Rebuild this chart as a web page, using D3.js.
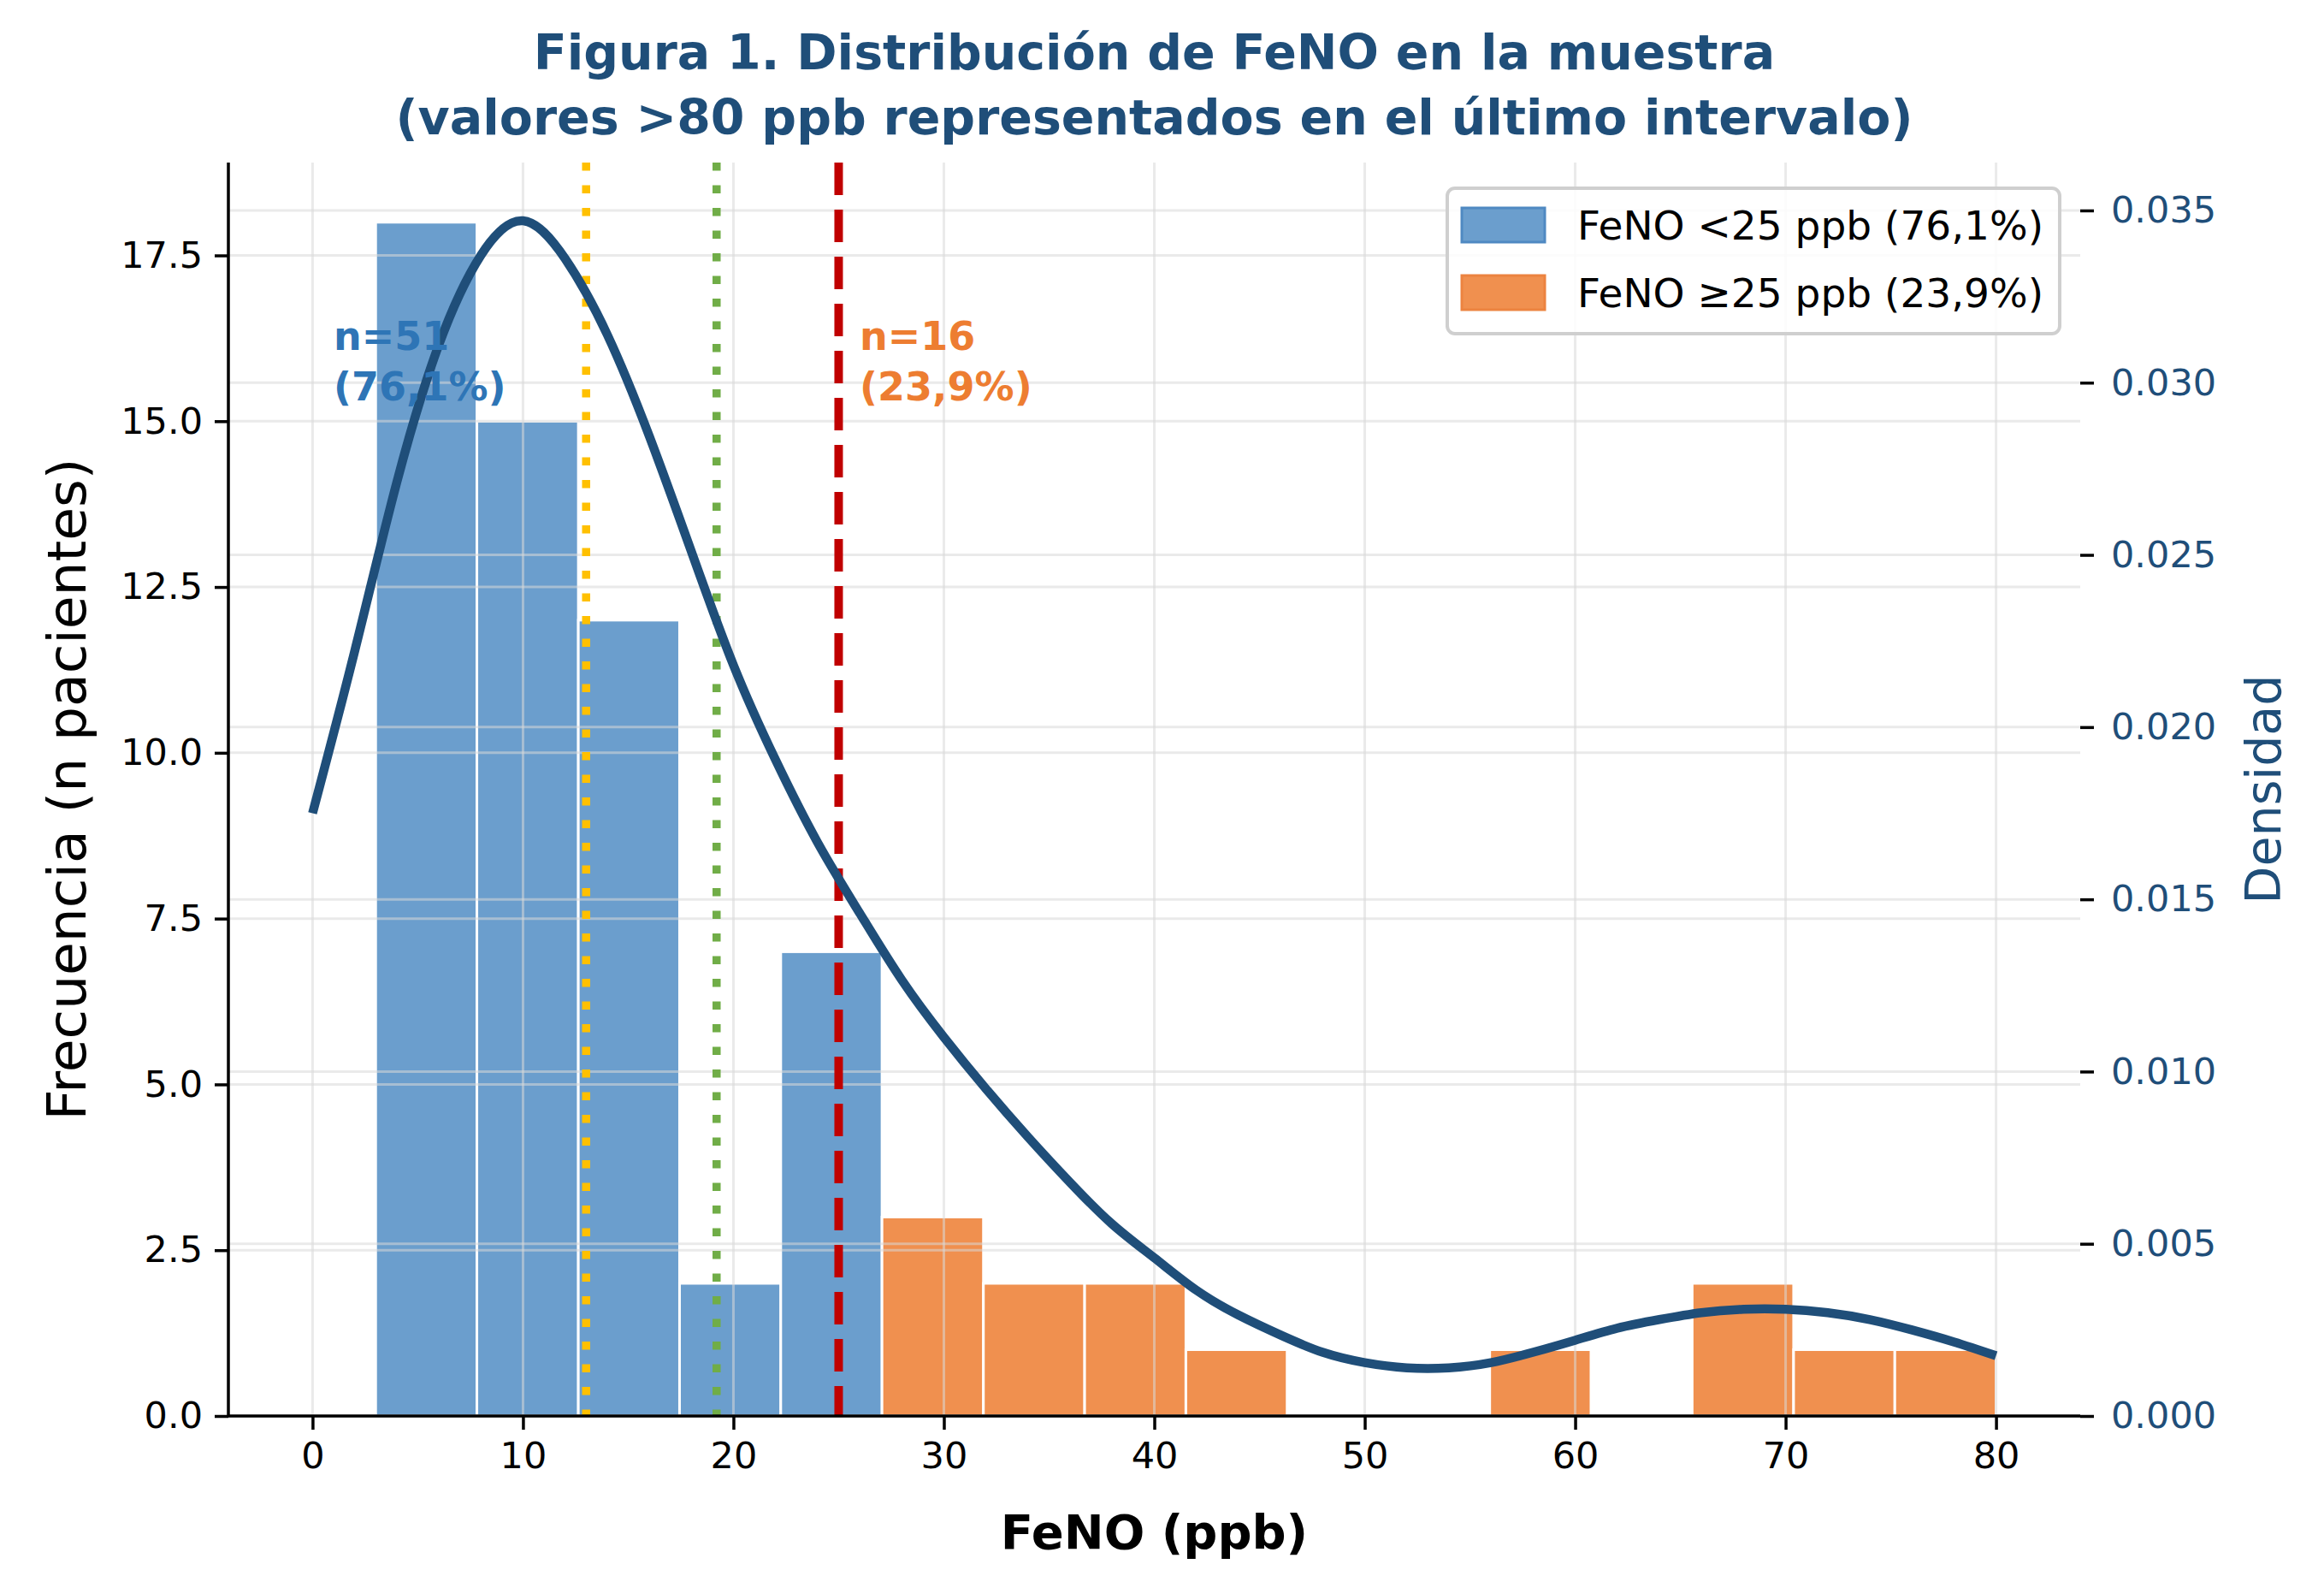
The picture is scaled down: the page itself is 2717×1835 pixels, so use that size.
<!DOCTYPE html>
<html>
<head>
<meta charset="utf-8">
<script src="https://cdn.jsdelivr.net/npm/d3@7"></script>
<style>
  body { margin: 0; background: #fff; }
  text { font-family: "DejaVu Sans", sans-serif; }
</style>
</head>
<body>
<svg id="chart" width="2717" height="1835"></svg>
<script>
// histogram bins (ppb) and counts
var binEdges = [3.0, 7.81, 12.63, 17.44, 22.25, 27.06, 31.88, 36.69, 41.5, 46.31, 51.13, 55.94, 60.75, 65.56, 70.38, 75.19, 80.0];
var counts = [18, 15, 12, 2, 7, 3, 2, 2, 1, 0, 0, 1, 0, 2, 1, 1];
var binGroup = ["low", "low", "low", "low", "low", "high", "high", "high", "high", "high", "high", "high", "high", "high", "high", "high"];

// density curve
var kdeX = [0, 2, 4, 6, 8, 10, 12, 14, 16, 18, 20, 22, 24, 26, 28, 30, 32, 34, 36, 38, 40,
            42, 44, 46, 48, 50, 52, 54, 56, 58, 60, 62, 64, 66, 68, 70, 72, 74, 76, 78, 80];
var kdeY = [0.0175, 0.0222, 0.0271, 0.0311, 0.0337, 0.0347, 0.0336, 0.0314, 0.02845, 0.0251, 0.0218,
            0.01905, 0.01665, 0.0146, 0.01266, 0.0110, 0.0095, 0.0081, 0.00678, 0.00557, 0.00459,
            0.00365, 0.00293, 0.00235, 0.00185, 0.00155, 0.0014, 0.0014, 0.00155, 0.00185, 0.0022,
            0.00255, 0.0028, 0.0030, 0.0031, 0.0031, 0.0030, 0.0028, 0.0025, 0.00215, 0.00175];

var xTicks = [0, 10, 20, 30, 40, 50, 60, 70, 80];
var yTicks = [0, 2.5, 5, 7.5, 10, 12.5, 15, 17.5];
var y2Ticks = [0, 0.005, 0.010, 0.015, 0.020, 0.025, 0.030, 0.035];

var refValues = [13.0, 19.2, 25];
var refNames = ["p50", "mean", "cutoff"];

var groupNames = ["low", "high"];
var legendLabels = ["FeNO <25 ppb (76,1%)", "FeNO \u226525 ppb (23,9%)"];
var annotX = [1, 26];
var annotY = [15.9, 15.9];
var annotLines = [["n=51", "(76,1%)"], ["n=16", "(23,9%)"]];

var colors = {
    low: "#6b9ecd", high: "#f0904f",
    lowEdge: "#4f89c2", highEdge: "#ec8340",
    lowText: "#2e75b6", highText: "#ed7d31",
    kde: "#1f4e79",
    p50: "#ffc000", mean: "#70ad47", cutoff: "#c00000"
};

var mLeft = 267, mRight = 2432, mTop = 190, mBottom = 1655;

var svg = d3.select("#chart");

var x = d3.scaleLinear().domain([-4, 84]).range([mLeft, mRight]);
var y = d3.scaleLinear().domain([0, 18.9]).range([mBottom, mTop]);
var y2 = d3.scaleLinear().domain([0, 0.03639]).range([mBottom, mTop]);

var bins = counts.map(function(c, i) {
    return {x0: binEdges[i], x1: binEdges[i + 1], n: c, g: binGroup[i]};
});

// bars
svg.append("g").selectAll("rect")
    .data(bins.filter(function(d) { return d.n > 0; }))
    .enter().append("rect")
    .attr("x", function(d) { return x(d.x0); })
    .attr("y", function(d) { return y(d.n); })
    .attr("width", function(d) { return x(d.x1) - x(d.x0); })
    .attr("height", function(d) { return y(0) - y(d.n); })
    .style("fill", function(d) { return colors[d.g]; })
    .style("stroke", "#fff")
    .style("stroke-width", 3);

// grid (drawn over the bars, as in the original)
var grid = svg.append("g").style("stroke", "#d9d9d9").style("stroke-opacity", 0.55).style("stroke-width", 3);
grid.selectAll(".gx").data(xTicks).enter().append("line")
    .attr("x1", function(d) { return x(d); }).attr("x2", function(d) { return x(d); })
    .attr("y1", mTop).attr("y2", mBottom);
grid.selectAll(".gy").data(yTicks).enter().append("line")
    .attr("x1", mLeft).attr("x2", mRight)
    .attr("y1", function(d) { return y(d); }).attr("y2", function(d) { return y(d); });
grid.selectAll(".gy2").data(y2Ticks).enter().append("line")
    .attr("x1", mLeft).attr("x2", mRight)
    .attr("y1", function(d) { return y2(d); }).attr("y2", function(d) { return y2(d); });

// reference lines
var dashes = {p50: "9.5,17", mean: "9.5,17", cutoff: "38,17"};
svg.append("g").selectAll("line")
    .data(refValues)
    .enter().append("line")
    .attr("x1", function(d) { return x(d); }).attr("x2", function(d) { return x(d); })
    .attr("y1", mTop).attr("y2", mBottom)
    .style("stroke", function(d, i) { return colors[refNames[i]]; })
    .style("stroke-width", function(d, i) { return i == 2 ? 10 : 9.5; })
    .style("stroke-dasharray", function(d, i) { return dashes[refNames[i]]; });

// density curve
var line = d3.line()
    .x(function(d) { return x(d[0]); })
    .y(function(d) { return y2(d[1]); })
    .curve(d3.curveNatural);

svg.append("path")
    .datum(kdeX.map(function(v, i) { return [v, kdeY[i]]; }))
    .attr("d", line)
    .style("fill", "none")
    .style("stroke", colors.kde)
    .style("stroke-width", 10.5);

// annotations
annotLines.forEach(function(lines, i) {
    var t = svg.append("text")
        .attr("x", x(annotX[i]))
        .attr("y", y(annotY[i]) - 30)
        .style("font-size", "46px")
        .style("font-weight", "bold")
        .style("fill", i == 0 ? colors.lowText : colors.highText)
        .attr("dominant-baseline", "central");
    lines.forEach(function(s, j) {
        t.append("tspan").attr("x", x(annotX[i])).attr("dy", j == 0 ? 0 : 59).text(s);
    });
});

// axes
var xAxis = d3.axisBottom(x).tickValues(xTicks).tickSize(16).tickPadding(14).tickFormat(d3.format("d"));
var yAxis = d3.axisLeft(y).tickValues(yTicks).tickSize(16).tickPadding(14).tickFormat(d3.format(".1f"));
var y2Axis = d3.axisRight(y2).tickValues(y2Ticks).tickSize(16).tickPadding(20).tickFormat(d3.format(".3f"));

var gx = svg.append("g").attr("transform", "translate(0," + mBottom + ")").call(xAxis);
var gy = svg.append("g").attr("transform", "translate(" + mLeft + ",0)").call(yAxis);
var gy2 = svg.append("g").attr("transform", "translate(" + mRight + ",0)").call(y2Axis);

[gx, gy, gy2].forEach(function(g) {
    g.selectAll("text").style("font-size", "43px").style("font-family", "DejaVu Sans");
    g.selectAll("line").style("stroke-width", 3.5);
    g.select(".domain").style("stroke-width", 3.5);
});
gx.select(".domain").attr("d", "M" + mLeft + ",0H" + mRight);
gy.select(".domain").attr("d", "M0," + mTop + "V" + mBottom);
gy2.select(".domain").remove();
gy2.selectAll("text").style("fill", colors.kde);

// titles and labels
svg.append("text")
    .attr("x", (mLeft + mRight) / 2).attr("y", 61)
    .attr("text-anchor", "middle").attr("dominant-baseline", "central")
    .style("font-size", "57px").style("font-weight", "bold").style("fill", colors.kde)
    .text("Figura 1. Distribución de FeNO en la muestra");
svg.append("text")
    .attr("x", (mLeft + mRight) / 2).attr("y", 137)
    .attr("text-anchor", "middle").attr("dominant-baseline", "central")
    .style("font-size", "57px").style("font-weight", "bold").style("fill", colors.kde)
    .text("(valores >80 ppb representados en el último intervalo)");

svg.append("text")
    .attr("x", (mLeft + mRight) / 2).attr("y", 1790)
    .attr("text-anchor", "middle").attr("dominant-baseline", "central")
    .style("font-size", "56px").style("font-weight", "bold")
    .text("FeNO (ppb)");

svg.append("text")
    .attr("transform", "translate(78," + (mTop + mBottom) / 2 + ") rotate(-90)")
    .attr("text-anchor", "middle").attr("dominant-baseline", "central")
    .style("font-size", "63px")
    .text("Frecuencia (n pacientes)");

svg.append("text")
    .attr("transform", "translate(2646," + (mTop + mBottom) / 2 + ") rotate(-90)")
    .attr("text-anchor", "middle").attr("dominant-baseline", "central")
    .style("font-size", "57px").style("fill", colors.kde)
    .text("Densidad");

// legend
var lg = svg.append("g").attr("transform", "translate(1692,220)");
lg.append("rect")
    .attr("width", 716).attr("height", 170).attr("rx", 9)
    .style("fill", "#fff").style("fill-opacity", 0.85)
    .style("stroke", "#cfcfcf").style("stroke-width", 4);
groupNames.forEach(function(g, i) {
    lg.append("rect")
        .attr("x", 17).attr("y", 23 + i * 79)
        .attr("width", 97).attr("height", 40)
        .style("fill", colors[g])
        .style("stroke", colors[g + "Edge"]).style("stroke-width", 3);
    lg.append("text")
        .attr("x", 152).attr("y", 43 + i * 79)
        .attr("dominant-baseline", "central")
        .style("font-size", "47px")
        .text(legendLabels[i]);
});
</script>
</body>
</html>
